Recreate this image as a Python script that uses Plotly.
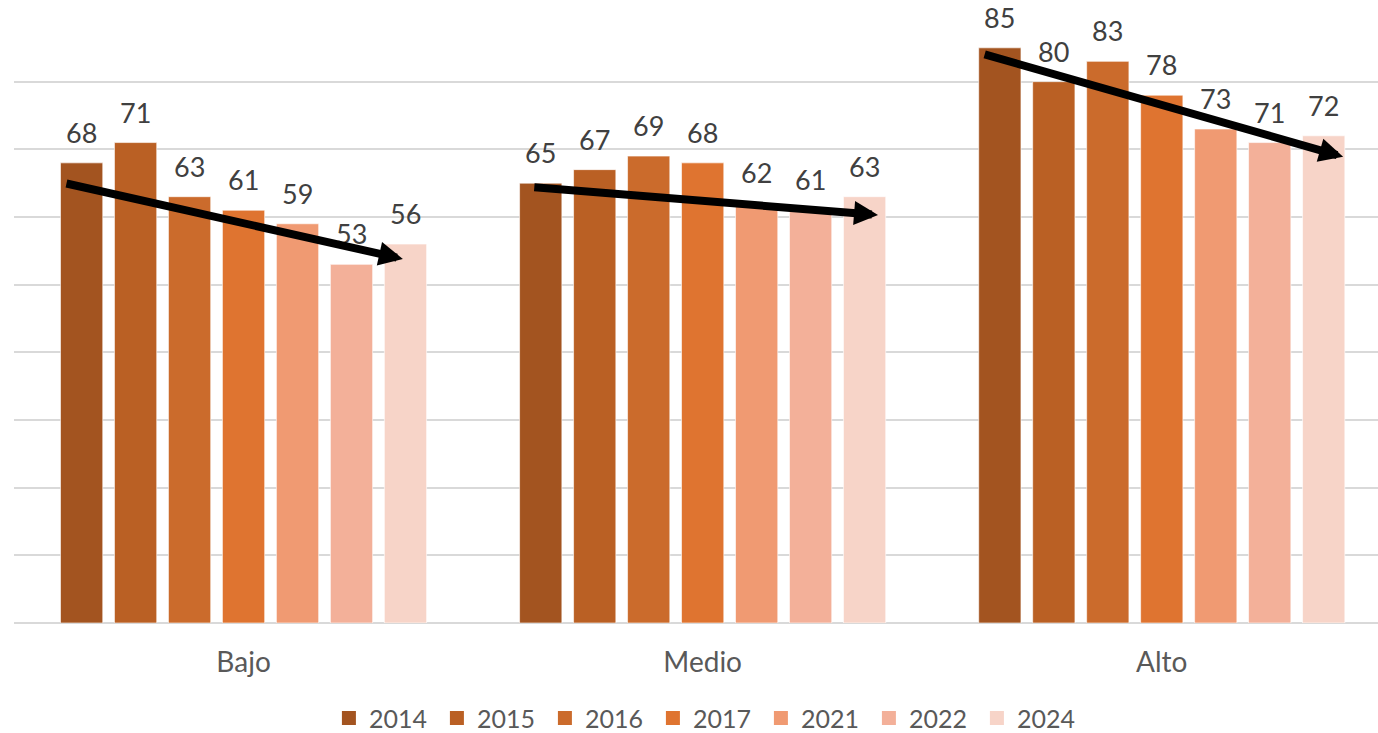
import plotly.graph_objects as go

niveles = ["Bajo", "Medio", "Alto"]
anios = ["2014", "2015", "2016", "2017", "2021", "2022", "2024"]
valores = {
    "2014": [68, 65, 85],
    "2015": [71, 67, 80],
    "2016": [63, 69, 83],
    "2017": [61, 68, 78],
    "2021": [59, 62, 73],
    "2022": [53, 61, 71],
    "2024": [56, 63, 72],
}
colores = ["#A35420", "#BA6024", "#CB6B2C", "#DF7430", "#F09A72", "#F3B099", "#F7D4C8"]

# flechas de tendencia (inicio x, inicio y, punta x, punta y) en coordenadas de datos
tendencias = [
    (-0.389, 65.0, 0.347, 53.8),
    (0.630, 64.4, 1.382, 60.3),
    (1.611, 84.1, 2.395, 68.9),
]

bargap = 0.177
slot = (1 - bargap) / len(anios)

fig = go.Figure()
for a, c in zip(anios, colores):
    fig.add_trace(go.Bar(
        x=niveles, y=valores[a], name=a, showlegend=False,
        marker=dict(color=c, line=dict(color="rgba(255,255,255,0.6)", width=1)),
    ))
# entradas de leyenda con cuadrados más grandes
for a, c in zip(anios, colores):
    fig.add_trace(go.Scatter(
        x=[None], y=[None], mode="markers", name=a,
        marker=dict(symbol="square", size=14, color=c),
    ))

anotaciones = []
for j, a in enumerate(anios):
    for i, v in enumerate(valores[a]):
        anotaciones.append(dict(
            x=i + (j - (len(anios) - 1) / 2) * slot, y=v, xref="x", yref="y",
            text=str(v), showarrow=False, yanchor="bottom", yshift=12,
            font=dict(size=27, color="#404040"),
        ))

for x0, y0, x1, y1 in tendencias:
    anotaciones.append(dict(
        x=x1, y=y1, ax=x0, ay=y0, xref="x", yref="y", axref="x", ayref="y",
        text="", showarrow=True, arrowhead=2, arrowsize=0.6, arrowwidth=8,
        arrowcolor="black", standoff=0,
    ))

fig.update_layout(
    width=1378, height=733,
    margin=dict(l=14, r=0, t=14, b=110),
    paper_bgcolor="white", plot_bgcolor="white",
    font=dict(family="Lato", size=26, color="#595959"),
    barmode="group", bargap=bargap, bargroupgap=0.217,
    showlegend=True,
    legend=dict(orientation="h", x=0.508, xanchor="center", yref="container", y=0.02,
                yanchor="middle", font=dict(size=25, color="#595959"), traceorder="normal",
                entrywidth=63, itemclick=False, bgcolor="rgba(0,0,0,0)",
                borderwidth=0, tracegroupgap=0),
    annotations=anotaciones,
)
fig.update_xaxes(range=[-0.5, 2.471], showgrid=False, ticks="", ticklabelstandoff=20,
                 tickfont=dict(size=28, color="#595959"))
fig.update_yaxes(range=[0, 90], dtick=10, showticklabels=False, gridcolor="#D9D9D9", gridwidth=1.5,
                 zeroline=True, zerolinecolor="#D9D9D9", zerolinewidth=2)

fig.write_html("out.html", config={"displayModeBar": False},
               post_script="document.body.style.margin='0';document.body.style.overflow='hidden';")
